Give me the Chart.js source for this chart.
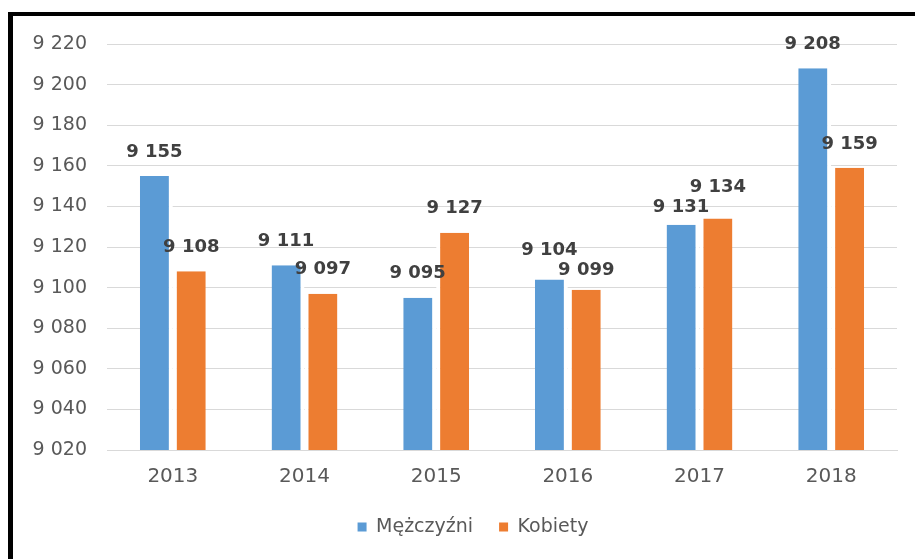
<!DOCTYPE html>
<html><head><meta charset="utf-8">
<script src="https://cdn.jsdelivr.net/npm/chart.js@4"></script>
<style>
html,body{margin:0;padding:0;background:#fff;width:915px;height:559px;overflow:hidden}
#frame{position:absolute;left:8px;top:12px;right:0;bottom:0;border-top:4px solid #000;border-left:5px solid #000;background:#fff}
#wrap{position:absolute;left:13px;top:16px;width:902px;height:543px}
</style></head><body>
<div id="frame"></div>
<div id="wrap"><canvas id="c" width="902" height="543"></canvas></div>
<script>
const categories = ['2013', '2014', '2015', '2016', '2017', '2018'];
const seriesNames = ['Mężczyźni', 'Kobiety'];
const men = [9155, 9111, 9095, 9104, 9131, 9208];
const women = [9108, 9097, 9127, 9099, 9134, 9159];
const yMin = 9020, yMax = 9220, yStep = 20;

function fmt(v) { return String(v).replace(/\B(?=(\d{3})+(?!\d))/g, ' '); }

const valueLabels = {
  id: 'valueLabels',
  afterDatasetsDraw(chart) {
    const ctx = chart.ctx;
    ctx.save();
    ctx.font = 'bold 18px "DejaVu Sans"';
    ctx.fillStyle = '#404040';
    ctx.textAlign = 'center';
    ctx.textBaseline = 'middle';
    const m0 = chart.getDatasetMeta(0), m1 = chart.getDatasetMeta(1);
    const minSep = 20;
    m0.data.forEach((b0, j) => {
      const b1 = m1.data[j];
      let y0 = b0.y - 24, y1 = b1.y - 24;
      const d = Math.abs(y0 - y1);
      if (d < minSep) {
        const mid = (y0 + y1) / 2;
        if (y0 <= y1) { y0 = mid - minSep / 2; y1 = mid + minSep / 2; }
        else { y1 = mid - minSep / 2; y0 = mid + minSep / 2; }
      }
      ctx.fillText(fmt(chart.data.datasets[0].data[j]), b0.x - 2, y0);
      ctx.fillText(fmt(chart.data.datasets[1].data[j]), b1.x + 2, y1);
    });
    ctx.restore();
  }
};

const legendShift = {
  id: 'legendShift',
  afterLayout(chart) {
    if (chart.legend) { chart.legend.left += 18; chart.legend.right += 18; }
  }
};

new Chart(document.getElementById('c'), {
  type: 'bar',
  data: {
    labels: categories,
    datasets: [
      { label: seriesNames[0], data: men, backgroundColor: '#5B9BD5', borderColor: '#ffffff',
        borderWidth: {top: 0, right: 4, bottom: 0, left: 0}, borderSkipped: false },
      { label: seriesNames[1], data: women, backgroundColor: '#ED7D31', borderColor: '#ffffff',
        borderWidth: {top: 0, right: 0, bottom: 0, left: 4}, borderSkipped: false }
    ]
  },
  options: {
    responsive: false,
    animation: false,
    layout: { padding: { left: 0, right: 18, top: 28, bottom: 12.5 } },
    datasets: { bar: { categoryPercentage: 0.5, barPercentage: 1 } },
    scales: {
      x: {
        grid: { display: false, drawTicks: false },
        border: { display: true, color: '#D9D9D9', width: 1 },
        ticks: { color: '#595959', font: { family: 'DejaVu Sans', size: 20 }, padding: 15 },
        afterFit(s) { s.height -= 12.5; }
      },
      y: {
        min: yMin, max: yMax,
        grid: { color: '#D9D9D9', lineWidth: 1, drawTicks: false },
        border: { display: false },
        ticks: { stepSize: yStep, color: '#595959', font: { family: 'DejaVu Sans', size: 19 }, padding: 20,
          callback: (v) => fmt(v) },
        afterFit(s) { s.width = 94; s.paddingTop = 0; s.paddingBottom = 0; }
      }
    },
    plugins: {
      tooltip: { enabled: false },
      legend: {
        position: 'bottom',
        labels: {
          color: '#595959', font: { family: 'DejaVu Sans', size: 19 }, boxWidth: 9, boxHeight: 9, padding: 26,
          generateLabels(chart) {
            const items = Chart.defaults.plugins.legend.labels.generateLabels(chart);
            items.forEach(it => { it.lineWidth = 0; it.strokeStyle = 'rgba(0,0,0,0)'; });
            return items;
          }
        }
      }
    }
  },
  plugins: [valueLabels, legendShift]
});
</script>
</body></html>
